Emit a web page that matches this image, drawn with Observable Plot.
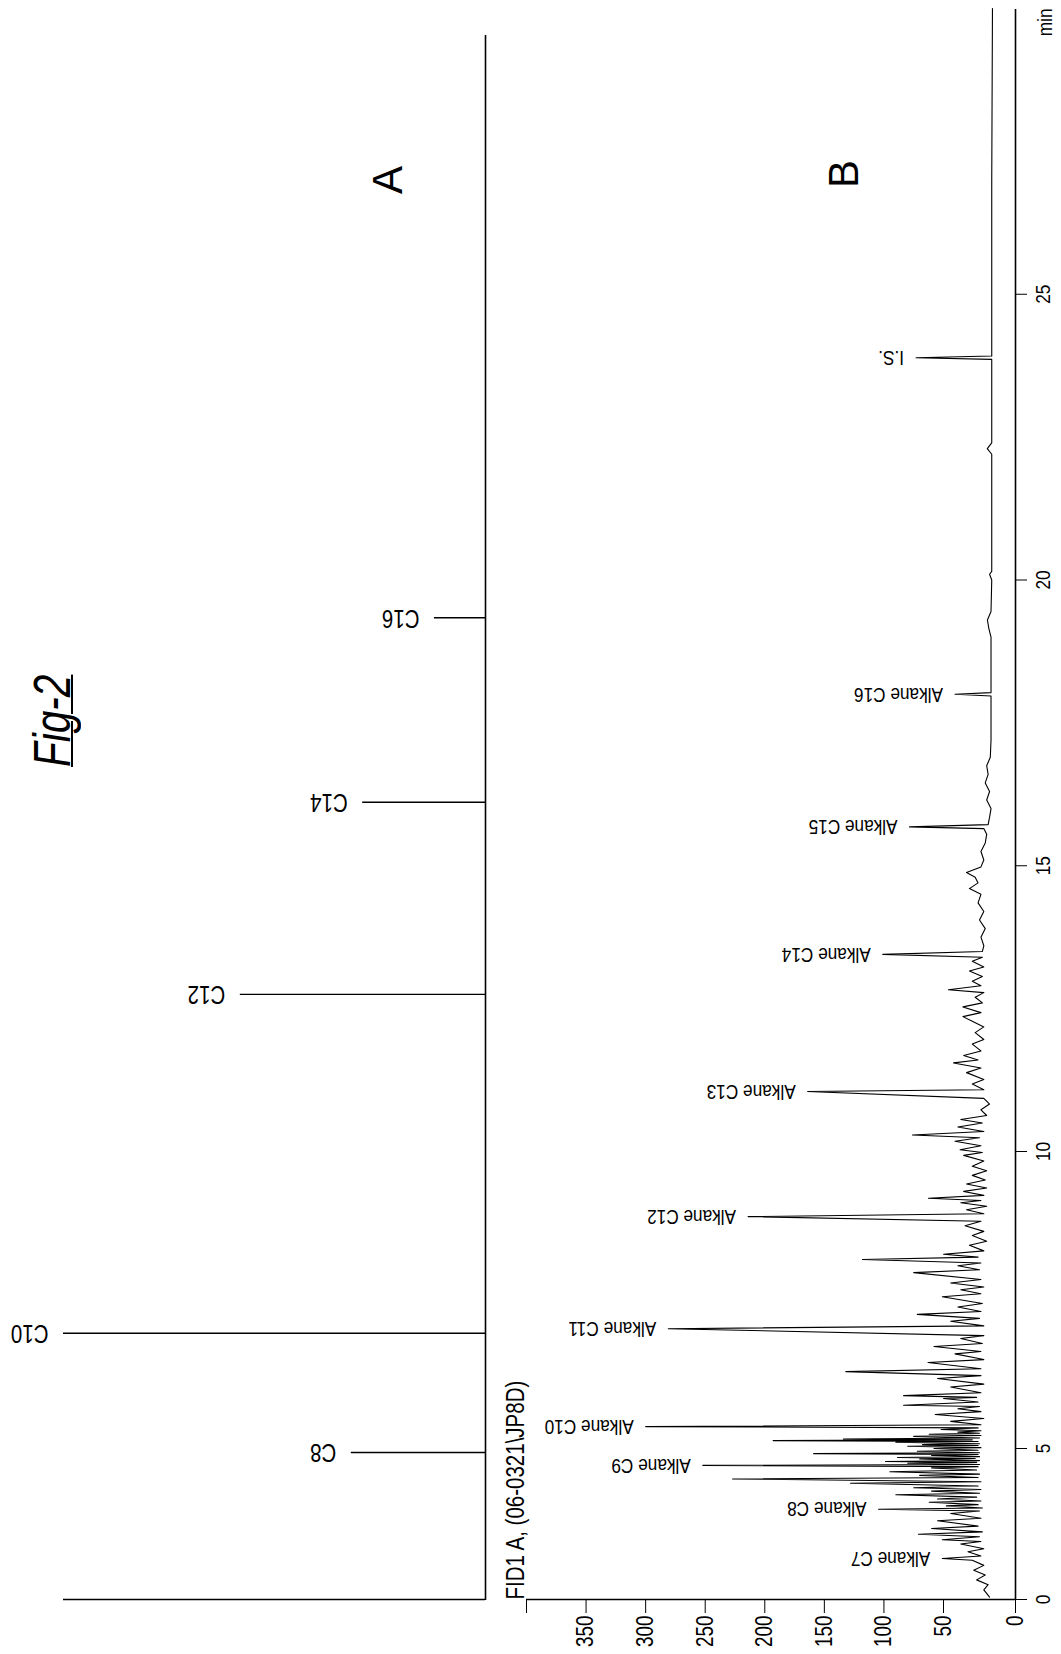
<!DOCTYPE html>
<html><head><meta charset="utf-8">
<script src="https://cdn.jsdelivr.net/npm/d3@7"></script>
<script src="https://cdn.jsdelivr.net/npm/@observablehq/plot@0.6"></script>
<style>
html,body{margin:0;padding:0;background:#fff;}
body{width:1061px;height:1654px;overflow:hidden;position:relative;}
#fig{position:absolute;left:0;top:0;width:1654px;height:1061px;transform-origin:0 0;
  transform:translate(0px,1654px) rotate(-90deg);color:#000;font-family:"Liberation Sans",Arial,sans-serif;}
#panelA,#panelB{position:absolute;left:0;}
#panelA{top:0;}
#panelB{top:480px;}
.title{position:absolute;left:887px;top:26px;font:italic 52px "Liberation Sans",Arial,sans-serif;
  text-decoration:underline;text-decoration-thickness:2px;line-height:1;transform-origin:0 0;transform:scaleX(0.78);white-space:nowrap;}
.letter{position:absolute;font:42px "Liberation Sans",Arial,sans-serif;transform:translate(-50%,-50%);line-height:1;}
</style></head><body>
<div id="fig">
  <div class="title">Fig-2</div>
  <div class="letter" style="left:1474px;top:388px">A</div>
  <div class="letter" style="left:1480px;top:844px">B</div>
  <div id="panelA"></div>
  <div id="panelB"></div>
</div>
<script>
// ---------- data ----------
// Panel A: reference alkane sticks (relative height, C10 = 100)
const stickLabels = ["C8", "C10", "C12", "C14", "C16"];
const stickTimes = [4.87, 6.94, 12.75, 16.11, 19.34];
const stickHeights = [31.8, 100, 58.1, 29.1, 12.1];

// Panel B: labelled peaks of the FID chromatogram
const peakLabels = ["Alkane C7", "Alkane C8", "Alkane C9", "Alkane C10", "Alkane C11", "Alkane C12",
  "Alkane C13", "Alkane C14", "Alkane C15", "Alkane C16", "I.S."];
const peakTimes = [1.36, 2.99, 4.44, 5.369, 7.017, 8.904, 11.05, 13.45, 15.68, 18.00, 23.89];
const peakSignals = [51, 104.5, 252, 300, 281, 214, 164, 101, 78.5, 42, 73];

// Panel B: chromatogram trace [time (min), signal]
const tracePoints = [
  [0.08,18],[0.32,22],[0.49,19],[0.65,27],[0.81,21],[0.97,29],[1.13,22],[1.30,30],[1.36,51],[1.44,24],
  [1.58,33],[1.68,22],[1.84,38],[1.92,24],[1.98,51],[2.08,25],[2.16,71],[2.24,23],[2.35,60],[2.43,26],
  [2.61,55],[2.69,24],[2.85,45],[2.93,25],[2.99,104.5],[3.03,23],[3.10,48],[3.14,26],[3.22,62],[3.26,24],
  [3.33,55],[3.39,27],[3.47,90],[3.52,25],[3.59,60],[3.64,24],[3.70,75],[3.76,26],[3.85,128],[3.90,24],
  [3.99,227],[4.04,26],[4.11,70],[4.15,25],[4.23,95],[4.29,27],[4.36,60],[4.40,26],[4.44,252],[4.47,25],
  [4.51,80],[4.54,27],[4.57,98.7],[4.60,25],[4.65,70],[4.67,28],[4.70,88.6],[4.73,25],[4.77,60],[4.80,26],
  [4.83,159],[4.86,25],[4.91,72],[4.94,26],[5.00,58],[5.014,24],[5.038,80],[5.051,26],[5.066,67.6],[5.081,25],
  [5.106,90],[5.118,26],[5.133,193],[5.146,30],[5.161,134],[5.176,25],[5.204,75],[5.219,24],[5.240,62],[5.256,25],
  [5.276,40],[5.298,24],[5.320,52],[5.347,26],[5.369,300],[5.399,24],[5.457,45],[5.505,22],[5.572,57],[5.621,24],
  [5.669,40],[5.707,25],[5.727,83.5],[5.784,26],[5.842,50],[5.861,27],[5.890,83.5],[5.938,24],[6.035,45],[6.083,22],
  [6.179,55],[6.227,24],[6.295,132],[6.343,24],[6.449,63],[6.497,22],[6.593,42],[6.632,24],[6.718,58],[6.767,23],
  [6.853,38],[6.901,22],[7.017,281],[7.065,22],[7.142,45],[7.190,25],[7.258,72],[7.306,24],[7.383,40],[7.441,23],
  [7.556,51],[7.604,24],[7.672,38],[7.720,22],[7.787,45],[7.845,24],[7.961,75],[8.009,25],[8.076,40],[8.124,24],
  [8.182,118],[8.221,26],[8.269,50],[8.327,22],[8.423,32],[8.490,20],[8.587,30],[8.655,22],[8.751,35],[8.827,24],
  [8.904,214],[8.953,22],[9.020,34],[9.078,20],[9.136,38],[9.174,24],[9.213,62.6],[9.261,22],[9.328,36],[9.386,20],
  [9.453,34],[9.521,21],[9.598,30],[9.675,20],[9.752,30],[9.839,22],[9.935,36],[9.983,23],[10.03,38.5],[10.10,24],
  [10.18,42],[10.24,25],[10.29,76],[10.35,22],[10.43,40],[10.50,23],[10.56,38],[10.63,20],[10.73,24],[10.83,18],
  [10.93,22],[11.05,164],[11.08,22],[11.18,30],[11.26,22],[11.38,34],[11.46,24],[11.55,43],[11.60,26],[11.68,36],
  [11.76,24],[11.88,30],[11.96,22],[12.08,28],[12.18,22],[12.28,30],[12.36,36.5],[12.43,24],[12.53,36.5],[12.60,23],
  [12.70,28],[12.78,22],[12.83,46.6],[12.90,24],[12.98,30],[13.06,23],[13.16,32],[13.23,22],[13.33,30],[13.40,23],
  [13.45,101],[13.50,23],[13.60,22],[13.75,24],[13.90,21],[14.05,25],[14.20,22],[14.35,26],[14.50,24],[14.60,32],
  [14.70,26],[14.80,28],[14.88,34],[14.98,24],[15.10,22],[15.25,24],[15.40,21],[15.55,20],[15.65,22],[15.68,78.5],
  [15.72,19],[15.85,18],[16.00,17],[16.15,20],[16.30,18],[16.45,21],[16.60,19],[16.75,20],[16.90,17.5],[17.20,17],
  [17.60,17],[17.97,17],[18.00,42],[18.03,17],[18.50,17],[19.00,17],[19.15,18.5],[19.30,19.5],[19.45,17],[20.00,16.5],
  [20.10,18],[20.15,16.5],[21.00,16.5],[22.20,16.5],[22.30,19.6],[22.40,16.5],[23.00,16.5],[23.86,16.5],[23.89,73],[23.92,16.5],
  [25.00,16.5],[27.00,16.5],[30.00,16]
];

const timeTicks = [0, 5, 10, 15, 20, 25];
const signalTicks = [0, 50, 100, 150, 200, 250, 300, 350, 400];
const signalTickLabels = ["0", "50", "100", "150", "200", "250", "300", "350", ""];
const channelLabel = "FID1 A, (06-0321\\JP8D)";
const timeUnit = "min";

// ---------- tables built from the arrays ----------
const sticks = stickLabels.map((label, i) => ({label, t: stickTimes[i], h: stickHeights[i]}));
const peaks = peakLabels.map((label, i) => ({label, t: peakTimes[i], s: peakSignals[i]}));
const trace = tracePoints.map(([t, s]) => ({t, s}));

const FONT = '"Liberation Sans",Arial,sans-serif';
// the original's time axis is drawn piecewise (0–5 min compressed)
const xScale = {type: "linear", domain: [0, 5, 10, 30], range: [54, 205, 502, 1645]};

// narrow (condensed) lettering as in the original print
function condense(svg, k) {
  svg.querySelectorAll("text").forEach(t => {
    const len = t.getComputedTextLength();
    if (len > 0) {
      t.setAttribute("textLength", (len * k).toFixed(1));
      t.setAttribute("lengthAdjust", "spacingAndGlyphs");
    }
  });
}

const plotA = Plot.plot({
  width: 1654, height: 500,
  marginLeft: 54, marginRight: 35, marginTop: 63, marginBottom: 15,
  x: {...xScale, axis: null},
  y: {type: "linear", domain: [0, 100], range: [485, 63], axis: null},
  style: {fontFamily: FONT, background: "transparent", color: "#000"},
  marks: [
    Plot.ruleY([0], {stroke: "#000", strokeWidth: 1.6}),
    Plot.ruleX([0], {stroke: "#000", strokeWidth: 1.6}),
    Plot.ruleX(sticks, {x: "t", y1: 0, y2: "h", stroke: "#000", strokeWidth: 1.4}),
    Plot.text(sticks, {x: "t", y: "h", text: "label", rotate: -90, textAnchor: "start",
      lineAnchor: "middle", dy: -15, fontSize: 25, fill: "#000"})
  ]
});
document.getElementById("panelA").appendChild(plotA);
condense(plotA, 0.82);

const plotB = Plot.plot({
  width: 1654, height: 581,
  marginLeft: 54, marginRight: 9, marginTop: 46, marginBottom: 46,
  x: {...xScale},
  y: {type: "linear", domain: [0, 50, 400], range: [535, 463, 46]},
  style: {fontFamily: FONT, background: "transparent", color: "#000"},
  marks: [
    Plot.axisX({ticks: timeTicks, tickSize: 12, tickPadding: 8, fontSize: 21, label: null}),
    Plot.axisY({ticks: signalTicks, tickSize: 13, tickPadding: 3, fontSize: 23, label: null,
      tickFormat: d => signalTickLabels[signalTicks.indexOf(d)]}),
    Plot.ruleY([0], {stroke: "#000", strokeWidth: 1.6}),
    Plot.ruleX([0], {stroke: "#000", strokeWidth: 1.6}),
    Plot.line(trace, {x: "t", y: "s", stroke: "#000", strokeWidth: 1.1}),
    Plot.text(peaks, {x: "t", y: "s", text: "label", rotate: -90, textAnchor: "start",
      lineAnchor: "middle", dy: -12, fontSize: 21, fill: "#000"}),
    Plot.text([channelLabel], {text: d => d, frameAnchor: "top-left", textAnchor: "start",
      lineAnchor: "bottom", dy: -3, fontSize: 25, fill: "#000"}),
    Plot.text([timeUnit], {text: d => d, frameAnchor: "bottom-right", textAnchor: "end",
      lineAnchor: "top", dy: 22, fontSize: 21, fill: "#000"})
  ]
});
document.getElementById("panelB").appendChild(plotB);
condense(plotB, 0.82);
</script>
</body></html>
